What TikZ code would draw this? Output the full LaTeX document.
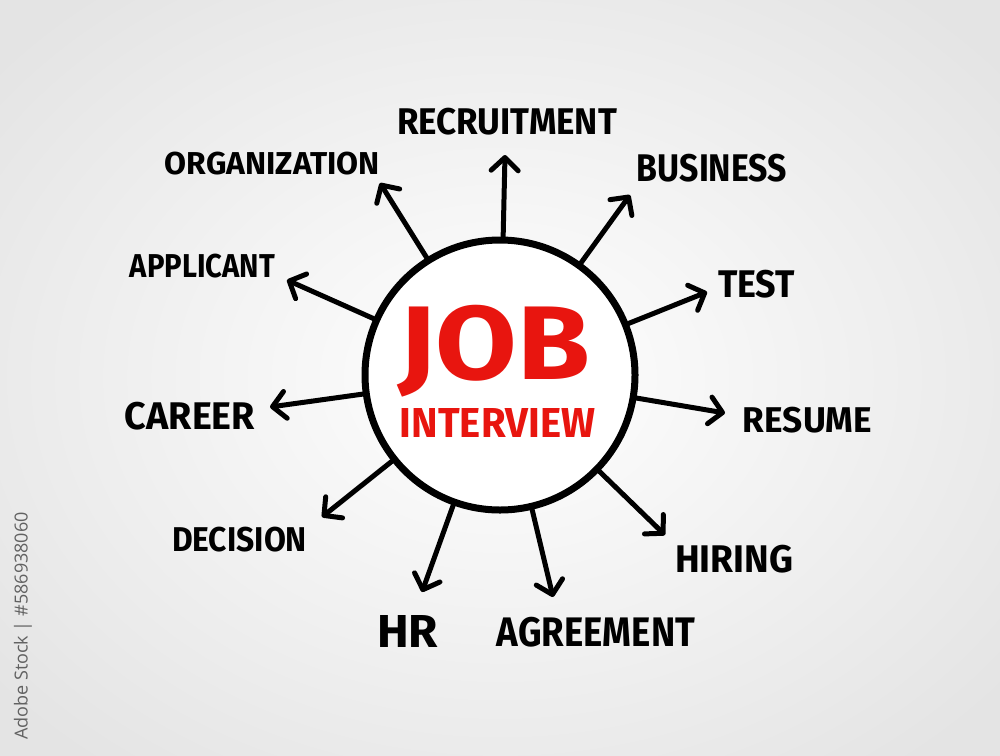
\documentclass[tikz,border=0pt]{standalone}
\usepackage{fontspec}
\setmainfont{Fira Sans}
\newfontfamily\wmfont{Open Sans}
\usetikzlibrary{arrows.meta}
\definecolor{jobred}{HTML}{E8150F}
\definecolor{bgedge}{HTML}{E4E4E4}
\newcommand{\fitlab}[3]{\resizebox*{#1pt}{#2pt}{\bfseries #3}}
\tikzset{
  arr/.style={line width=5pt, line cap=round, -{Straight Barb[length=13pt,width=27pt,round]}},
  lab/.style={inner sep=0pt, anchor=center, text=black},
  hub/.style={circle, draw=black, line width=7pt, fill=white, minimum size=270pt, inner sep=0pt}
}
\begin{document}
\begin{tikzpicture}[x=1pt,y=-1pt]
\useasboundingbox (0,0) rectangle (1000,755);
\shade[inner color=white, outer color=bgedge] (-150,-120) rectangle (1150,875);
% hub
\node[hub] (c) at (500,375) {};
\node[lab, text=jobred] (job) at (494,351) {\fitlab{192}{92}{JOB}};
\node[lab, text=jobred] (intv) at (497.5,422.5) {\fitlab{195}{29}{INTERVIEW}};
% arrow tips
\coordinate (trec) at (505,155);
\coordinate (torg) at (380,183);
\coordinate (tbus) at (630,195);
\coordinate (tapp) at (287,280);
\coordinate (ttes) at (707,292);
\coordinate (tcar) at (270,407);
\coordinate (tres) at (725,413);
\coordinate (tdec) at (322,517);
\coordinate (thir) at (665,535);
\coordinate (thr) at (422,592);
\coordinate (tagr) at (553,597);
\foreach \t in {trec,torg,tbus,tapp,ttes,tcar,tres,tdec,thir,thr,tagr}
  \draw[arr] (c) -- (\t);
% labels
\node[lab] (rec) at (507,121.5) {\fitlab{220}{27}{RECRUITMENT}};
\node[lab] (org) at (272.5,163.5) {\fitlab{215}{23}{ORGANIZATION}};
\node[lab] (bus) at (712,168) {\fitlab{150}{28}{BUSINESS}};
\node[lab] (app) at (202.5,266) {\fitlab{145}{24}{APPLICANT}};
\node[lab] (tes) at (756.5,284) {\fitlab{77}{28}{TEST}};
\node[lab] (car) at (190,416) {\fitlab{130}{28}{CAREER}};
\node[lab] (res) at (807.5,420) {\fitlab{129}{26}{RESUME}};
\node[lab] (dec) at (239.5,539.5) {\fitlab{135}{25}{DECISION}};
\node[lab] (hir) at (734,559) {\fitlab{118}{28}{HIRING}};
\node[lab] (hr) at (407.5,631) {\fitlab{61}{32}{HR}};
\node[lab] (agr) at (596,632) {\fitlab{198}{30}{AGREEMENT}};
% side watermark text
\node[inner sep=0pt, rotate=90, anchor=east, text=black!62, font=\wmfont\fontsize{18}{20}\selectfont] (wm) at (23,512) {Adobe Stock | \#586938060};
\end{tikzpicture}
\end{document}
